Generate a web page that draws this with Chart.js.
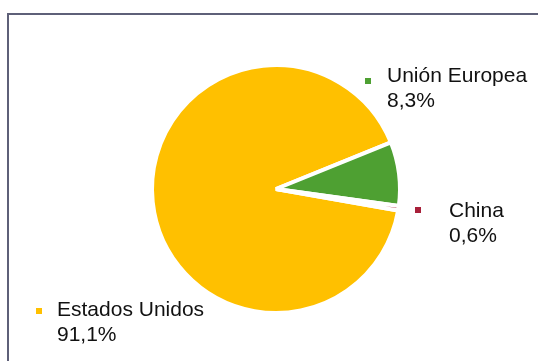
<!DOCTYPE html>
<html>
<head>
<meta charset="utf-8">
<script src="https://cdn.jsdelivr.net/npm/chart.js@4.4.0/dist/chart.umd.min.js"></script>
<style>
  html, body { margin: 0; padding: 0; background: #fff; }
  #wrap { position: relative; width: 538px; height: 361px; }
</style>
</head>
<body>
<div id="wrap"><canvas id="c" width="538" height="361"></canvas></div>
<script>
const categories = ["Estados Unidos", "Unión Europea", "China"];
const shares = [91.1, 8.3, 0.6];
const shareLabels = ["91,1%", "8,3%", "0,6%"];
const colors = ["#FFC000", "#4EA032", "#A8203A"];

// label layout (text anchor positions in px)
const labelPos = [
  { mx: 36, my: 308, tx: 57, ty: 316 },
  { mx: 365, my: 78, tx: 387, ty: 82 },
  { mx: 415, my: 207, tx: 449, ty: 217 }
];

const frame = {
  id: 'frame',
  beforeDraw(chart) {
    const ctx = chart.ctx;
    ctx.save();
    ctx.fillStyle = '#fff';
    ctx.fillRect(0, 0, chart.width, chart.height);
    ctx.strokeStyle = '#5E6078';
    ctx.lineWidth = 2;
    ctx.strokeRect(8, 14, 600, 400);
    ctx.restore();
  }
};

const outLabels = {
  id: 'outLabels',
  afterDraw(chart) {
    const ctx = chart.ctx;
    ctx.save();
    ctx.font = '21px "Liberation Sans", Arial, sans-serif';
    ctx.textBaseline = 'alphabetic';
    ctx.textAlign = 'left';
    categories.forEach((cat, i) => {
      const p = labelPos[i];
      ctx.fillStyle = colors[i];
      ctx.fillRect(p.mx, p.my, 6, 6);
      ctx.fillStyle = '#111';
      ctx.fillText(cat, p.tx, p.ty);
      ctx.fillText(shareLabels[i], p.tx, p.ty + 25);
    });
    ctx.restore();
  }
};

new Chart(document.getElementById('c'), {
  type: 'pie',
  data: {
    labels: categories,
    datasets: [{
      data: shares,
      backgroundColor: colors,
      borderColor: '#ffffff',
      borderWidth: 4
    }]
  },
  options: {
    responsive: false,
    animation: false,
    rotation: 100,
    radius: 124,
    layout: { padding: { left: 138, right: 124, top: 51, bottom: 34 } },
    plugins: { legend: { display: false }, tooltip: { enabled: false } }
  },
  plugins: [frame, outLabels]
});
</script>
</body>
</html>
